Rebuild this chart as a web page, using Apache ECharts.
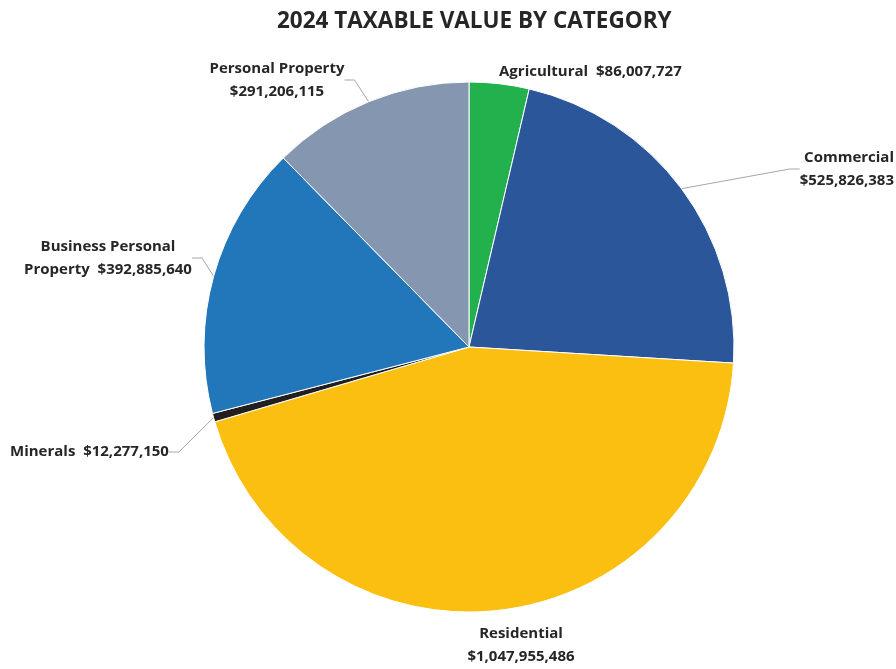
<!DOCTYPE html>
<html>
<head>
<meta charset="utf-8">
<script src="https://cdn.jsdelivr.net/npm/echarts@6/dist/echarts.min.js"></script>
<style>
  html, body { margin: 0; padding: 0; background: #fff; }
  #chart { width: 896px; height: 669px; }
</style>
</head>
<body>
<div id="chart"></div>
<script>
// data
var categories = ['Agricultural', 'Commercial', 'Residential', 'Minerals', 'Business Personal Property', 'Personal Property'];
var values = [86007727, 525826383, 1047955486, 12277150, 392885640, 291206115];
var labelTexts = [
	'Agricultural  $86,007,727',
	'Commercial\n$525,826,383',
	'Residential\n$1,047,955,486',
	'Minerals  $12,277,150',
	'Business Personal\nProperty  $392,885,640',
	'Personal Property\n$291,206,115'
];
var colors = ['#22b14c', '#2b579a', '#fbbf12', '#231f20', '#2277bb', '#8496b0'];

// where each label sits (x, y of anchor, align)
var labelPos = [
	{ x: 499, y: 72, align: 'left', line: false },
	{ x: 894, y: 169, align: 'right', line: true },
	{ x: 521, y: 645, align: 'center', line: false },
	{ x: 10, y: 452, align: 'left', line: true },
	{ x: 108, y: 258, align: 'center', line: true },
	{ x: 277, y: 80, align: 'center', line: true }
];

var chart = echarts.init(document.getElementById('chart'));

var pieData = categories.map(function (name, i) {
	return {
		name: name,
		value: values[i],
		itemStyle: { color: colors[i] },
		label: { align: labelPos[i].align },
		labelLine: { show: labelPos[i].line }
	};
});

var option = {
	animation: false,
	title: {
		text: '2024 TAXABLE VALUE BY CATEGORY',
		left: 272,
		top: 5,
		textStyle: {
			fontFamily: 'Open Sans',
			fontWeight: 'bold',
			fontSize: 22.5,
			color: '#262626'
		}
	},
	series: [
		{
			type: 'pie',
			center: [469, 347],
			radius: 265,
			startAngle: 90,
			clockwise: true,
			avoidLabelOverlap: false,
			itemStyle: { borderColor: '#fff', borderWidth: 1 },
			label: {
				show: true,
				position: 'outside',
				formatter: function (p) { return labelTexts[p.dataIndex]; },
				fontFamily: 'Open Sans',
				fontWeight: 'bold',
				fontSize: 15,
				lineHeight: 23,
				color: '#262626'
			},
			labelLine: {
				show: true,
				length: 10,
				length2: 10,
				lineStyle: { color: '#a6a6a6', width: 1 }
			},
			labelLayout: function (params) {
				var p = labelPos[params.dataIndex];
				return { x: p.x, y: p.y, align: p.align, verticalAlign: 'middle' };
			},
			data: pieData
		}
	]
};

chart.setOption(option);
window.addEventListener('resize', chart.resize);
</script>
</body>
</html>
